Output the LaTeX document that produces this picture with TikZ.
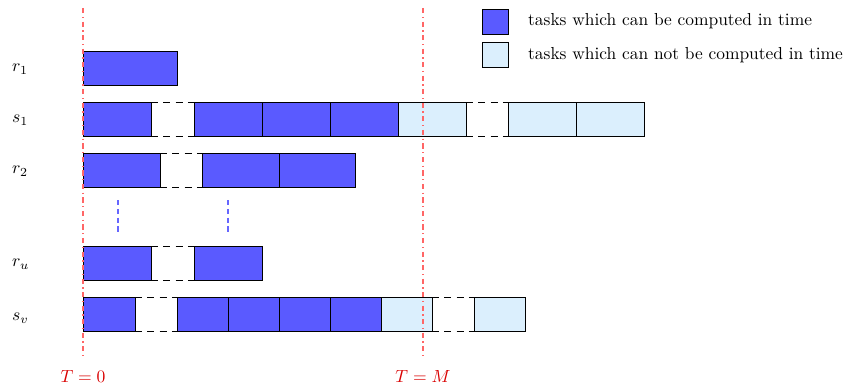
\documentclass[tikz,border=0pt]{standalone}
\usetikzlibrary{positioning}
\definecolor{lateblue}{RGB}{219,239,253}
\definecolor{okblue}{RGB}{90,90,255}

\begin{document}
\begin{tikzpicture}[
    x=0.02cm, y=-0.02cm,
    every node/.style={align=center},
    cell/.style={rectangle, draw=black, minimum height=0.68cm, inner sep=0pt, outer sep=0pt},
    ok/.style={cell, fill=okblue},
    late/.style={cell, fill=lateblue},
    gap/.style={dash pattern=on 4pt off 3pt},
    deadline/.style={red!60, line width=0.7pt, dash dot},
    more/.style={blue!60, line width=0.7pt, densely dashed},
    rowlabel/.style={anchor=west},
    legtext/.style={anchor=west, font=\fontsize{9.9}{11}\selectfont}
]
\useasboundingbox (0,0) rectangle (848,385);

% LEGEND
\node[ok, minimum width=0.52cm, minimum height=0.5cm] (legok) at (495,21.5) {};
\node[late, minimum width=0.52cm, minimum height=0.5cm, below=0.17cm of legok] (leglate) {};
\node[legtext] (legoktext) at (522,21) {tasks which can be computed in time};
\node[legtext] (leglatetext) at (522,55) {tasks which can not be computed in time};

% DEADLINES
\coordinate (t0top) at (83,8);
\coordinate (t0bot) at (83,358);
\coordinate (tmtop) at (423,8);
\coordinate (tmbot) at (423,358);
\node[text=red!85!black] (t0) at (83,376) {$T=0$};
\node[text=red!85!black] (tm) at (423,376) {$T=M$};

% ROW LABELS
\node[rowlabel] (lr1) at (6,69) {$r_1$};
\node[rowlabel] (ls1) at (6,120) {$s_1$};
\node[rowlabel] (lr2) at (6,171) {$r_2$};
\node[rowlabel] (lru) at (6,264) {$r_u$};
\node[rowlabel] (lsv) at (6,318) {$s_v$};

% ROW r1
\node[ok, minimum width=1.88cm, anchor=west] (r1a) at (83,68) {};

% ROW s1
\node[ok, minimum width=1.36cm, anchor=west] (s1a) at (83,119) {};
\node[ok, minimum width=1.36cm, right=0.86cm of s1a] (s1b) {};
\node[ok, minimum width=1.36cm, right=0pt of s1b] (s1c) {};
\node[ok, minimum width=1.36cm, right=0pt of s1c] (s1d) {};
\node[late, minimum width=1.36cm, right=0pt of s1d] (s1e) {};
\node[late, minimum width=1.36cm, right=0.84cm of s1e] (s1f) {};
\node[late, minimum width=1.36cm, right=0pt of s1f] (s1g) {};

% ROW r2
\node[ok, minimum width=1.54cm, anchor=west] (r2a) at (83,170) {};
\node[ok, minimum width=1.54cm, right=0.84cm of r2a] (r2b) {};
\node[ok, minimum width=1.52cm, right=0pt of r2b] (r2c) {};

% ROW ru
\node[ok, minimum width=1.36cm, anchor=west] (rua) at (83,263) {};
\node[ok, minimum width=1.36cm, right=0.86cm of rua] (rub) {};

% ROW sv
\node[ok, minimum width=1.04cm, anchor=west] (sva) at (83,314) {};
\node[ok, minimum width=1.02cm, right=0.84cm of sva] (svb) {};
\node[ok, minimum width=1.02cm, right=0pt of svb] (svc) {};
\node[ok, minimum width=1.02cm, right=0pt of svc] (svd) {};
\node[ok, minimum width=1.02cm, right=0pt of svd] (sve) {};
\node[late, minimum width=1.02cm, right=0pt of sve] (svf) {};
\node[late, minimum width=1.02cm, right=0.84cm of svf] (svg) {};

% GAPS
\foreach \a/\b in {s1a/s1b, s1e/s1f, r2a/r2b, rua/rub, sva/svb, svf/svg} {
    \draw[gap] (\a.north east) -- (\b.north west);
    \draw[gap] (\a.south east) -- (\b.south west);
}

% DEADLINE LINES
\draw[deadline] (t0top) -- (t0bot);
\draw[deadline] (tmtop) -- (tmbot);

% MORE ROWS
\coordinate (dotsa) at (118,200);
\coordinate (dotsb) at (118,233);
\coordinate (dotsc) at (228,200);
\coordinate (dotsd) at (228,233);
\draw[more] (dotsa) -- (dotsb);
\draw[more] (dotsc) -- (dotsd);

\end{tikzpicture}
\end{document}
